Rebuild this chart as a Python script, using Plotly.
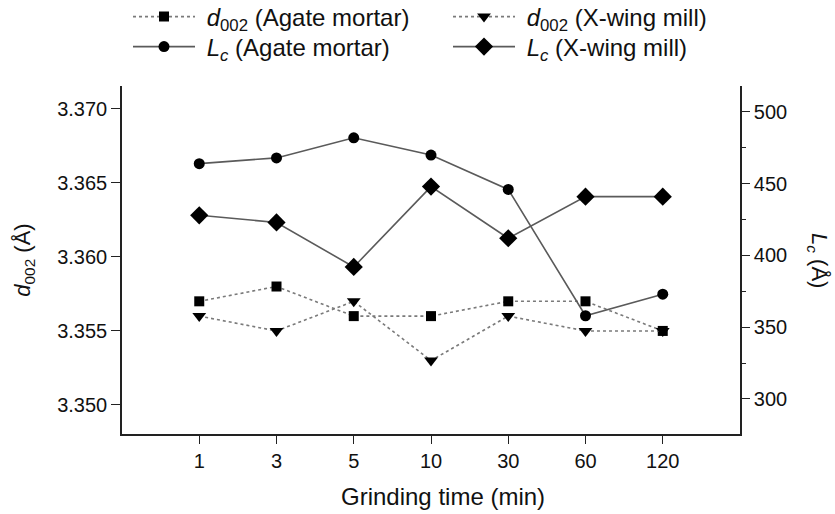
import plotly.graph_objects as go

grinding_time = ["1", "3", "5", "10", "30", "60", "120"]
d002_agate = [3.357, 3.358, 3.356, 3.356, 3.357, 3.357, 3.355]
d002_xwing = [3.356, 3.355, 3.357, 3.353, 3.356, 3.355, 3.355]
lc_agate = [464, 468, 482, 470, 446, 358, 373]
lc_xwing = [428, 423, 392, 448, 412, 441, 441]

left_ticks = [3.350, 3.355, 3.360, 3.365, 3.370]
right_ticks = [300, 350, 400, 450, 500]

FONT = "Liberation Sans, Arial, sans-serif"
AX = "#222222"
LINE_SOLID = "#5a5a5a"
LINE_DOT = "#7a7a7a"
NB = "\u00a0"

fig = go.Figure()
fig.add_trace(go.Scatter(
    x=grinding_time, y=d002_agate, mode="lines+markers",
    name=NB + "<i>d</i><sub>002</sub> (Agate mortar)",
    line=dict(color=LINE_DOT, width=1.6, dash="dot"),
    marker=dict(symbol="square", size=10, color="black"),
    legend="legend", yaxis="y"))
fig.add_trace(go.Scatter(
    x=grinding_time, y=d002_xwing, mode="lines+markers",
    name=NB + "<i>d</i><sub>002</sub> (X-wing mill)",
    line=dict(color=LINE_DOT, width=1.6, dash="dot"),
    marker=dict(symbol="triangle-down", size=12, color="black"),
    legend="legend2", yaxis="y"))
fig.add_trace(go.Scatter(
    x=grinding_time, y=lc_agate, mode="lines+markers",
    name=NB + "<i>L<sub>c</sub></i> (Agate mortar)",
    line=dict(color=LINE_SOLID, width=1.6),
    marker=dict(symbol="circle", size=11, color="black"),
    legend="legend3", yaxis="y2"))
fig.add_trace(go.Scatter(
    x=grinding_time, y=lc_xwing, mode="lines+markers",
    name=NB + "<i>L<sub>c</sub></i> (X-wing mill)",
    line=dict(color=LINE_SOLID, width=1.6),
    marker=dict(symbol="diamond", size=14, color="black"),
    legend="legend4", yaxis="y2"))

n = len(grinding_time)
legend_common = dict(
    orientation="h", xref="container", yref="container",
    xanchor="left", yanchor="middle",
    font=dict(family=FONT, size=24, color="#111"),
    itemwidth=62, bgcolor="rgba(0,0,0,0)",
)
col_x = [128 / 835, 448 / 835]
row_y = [1 - 17 / 514, 1 - 47 / 514]

fig.update_layout(
    width=835, height=514,
    margin=dict(l=122, r=95, t=86, b=80, autoexpand=False),
    paper_bgcolor="white", plot_bgcolor="white",
    font=dict(family=FONT, size=20, color="#111"),
    showlegend=True,
    legend=dict(x=col_x[0], y=row_y[0], **legend_common),
    legend2=dict(x=col_x[1], y=row_y[0], **legend_common),
    legend3=dict(x=col_x[0], y=row_y[1], **legend_common),
    legend4=dict(x=col_x[1], y=row_y[1], **legend_common),
    xaxis=dict(
        type="category", categoryorder="array", categoryarray=grinding_time,
        range=[-1, n], showline=True, linecolor=AX, linewidth=1.6,
        ticks="outside", ticklen=8, tickwidth=1.4, tickcolor=AX,
        showgrid=False, zeroline=False,
        tickfont=dict(family=FONT, size=20),
    ),
    xaxis2=dict(
        overlaying="x", side="top", anchor="y", range=[-1, n],
        tickmode="linear", tick0=-1, dtick=1,
        showline=True, linecolor=AX, linewidth=1.6,
        ticks="inside", ticklen=8, tickwidth=1.4, tickcolor=AX,
        showticklabels=False, showgrid=False, zeroline=False,
    ),
    xaxis3=dict(
        overlaying="x", side="bottom", anchor="y", range=[-1, n],
        tickmode="array", tickvals=[-1, n],
        showline=False, ticks="outside", ticklen=8, tickwidth=1.4, tickcolor=AX,
        showticklabels=False, showgrid=False, zeroline=False,
    ),
    yaxis=dict(
        range=[3.34804, 3.37154], tickmode="array", tickvals=left_ticks,
        tickformat=".3f", showline=True, linecolor=AX, linewidth=1.6,
        ticks="outside", ticklen=9, tickwidth=1.4, tickcolor=AX,
        showgrid=False, zeroline=False,
        tickfont=dict(family=FONT, size=20),
        title=dict(text="<i>d</i><sub>002</sub> (Å)", font=dict(family=FONT, size=22), standoff=20),
    ),
    yaxis2=dict(
        overlaying="y", side="right", anchor="x",
        range=[275.6, 518.1], tickmode="array", tickvals=right_ticks,
        showline=True, linecolor=AX, linewidth=1.6,
        ticks="outside", ticklen=8, tickwidth=1.4, tickcolor=AX,
        minor=dict(dtick=25, tick0=0, ticks="outside", ticklen=4, tickwidth=1.4, tickcolor=AX),
        showgrid=False, zeroline=False,
        tickfont=dict(family=FONT, size=20),
    ),
    annotations=[
        dict(
            text="<i>L<sub>c</sub></i> (Å)", textangle=90,
            xref="paper", yref="paper", x=(818 - 122) / 618, y=0.5,
            xanchor="center", yanchor="middle",
            showarrow=False, font=dict(family=FONT, size=22, color="#111"),
        ),
        dict(
            text="Grinding time (min)",
            xref="paper", yref="paper", x=(443 - 122) / 618, y=-(497 - 434) / 348.3,
            xanchor="center", yanchor="middle",
            showarrow=False, font=dict(family=FONT, size=24, color="#111"),
        ),
    ],
)

fig.write_html("out.html", config={"displayModeBar": False},
               post_script="document.body.style.margin='0';")
